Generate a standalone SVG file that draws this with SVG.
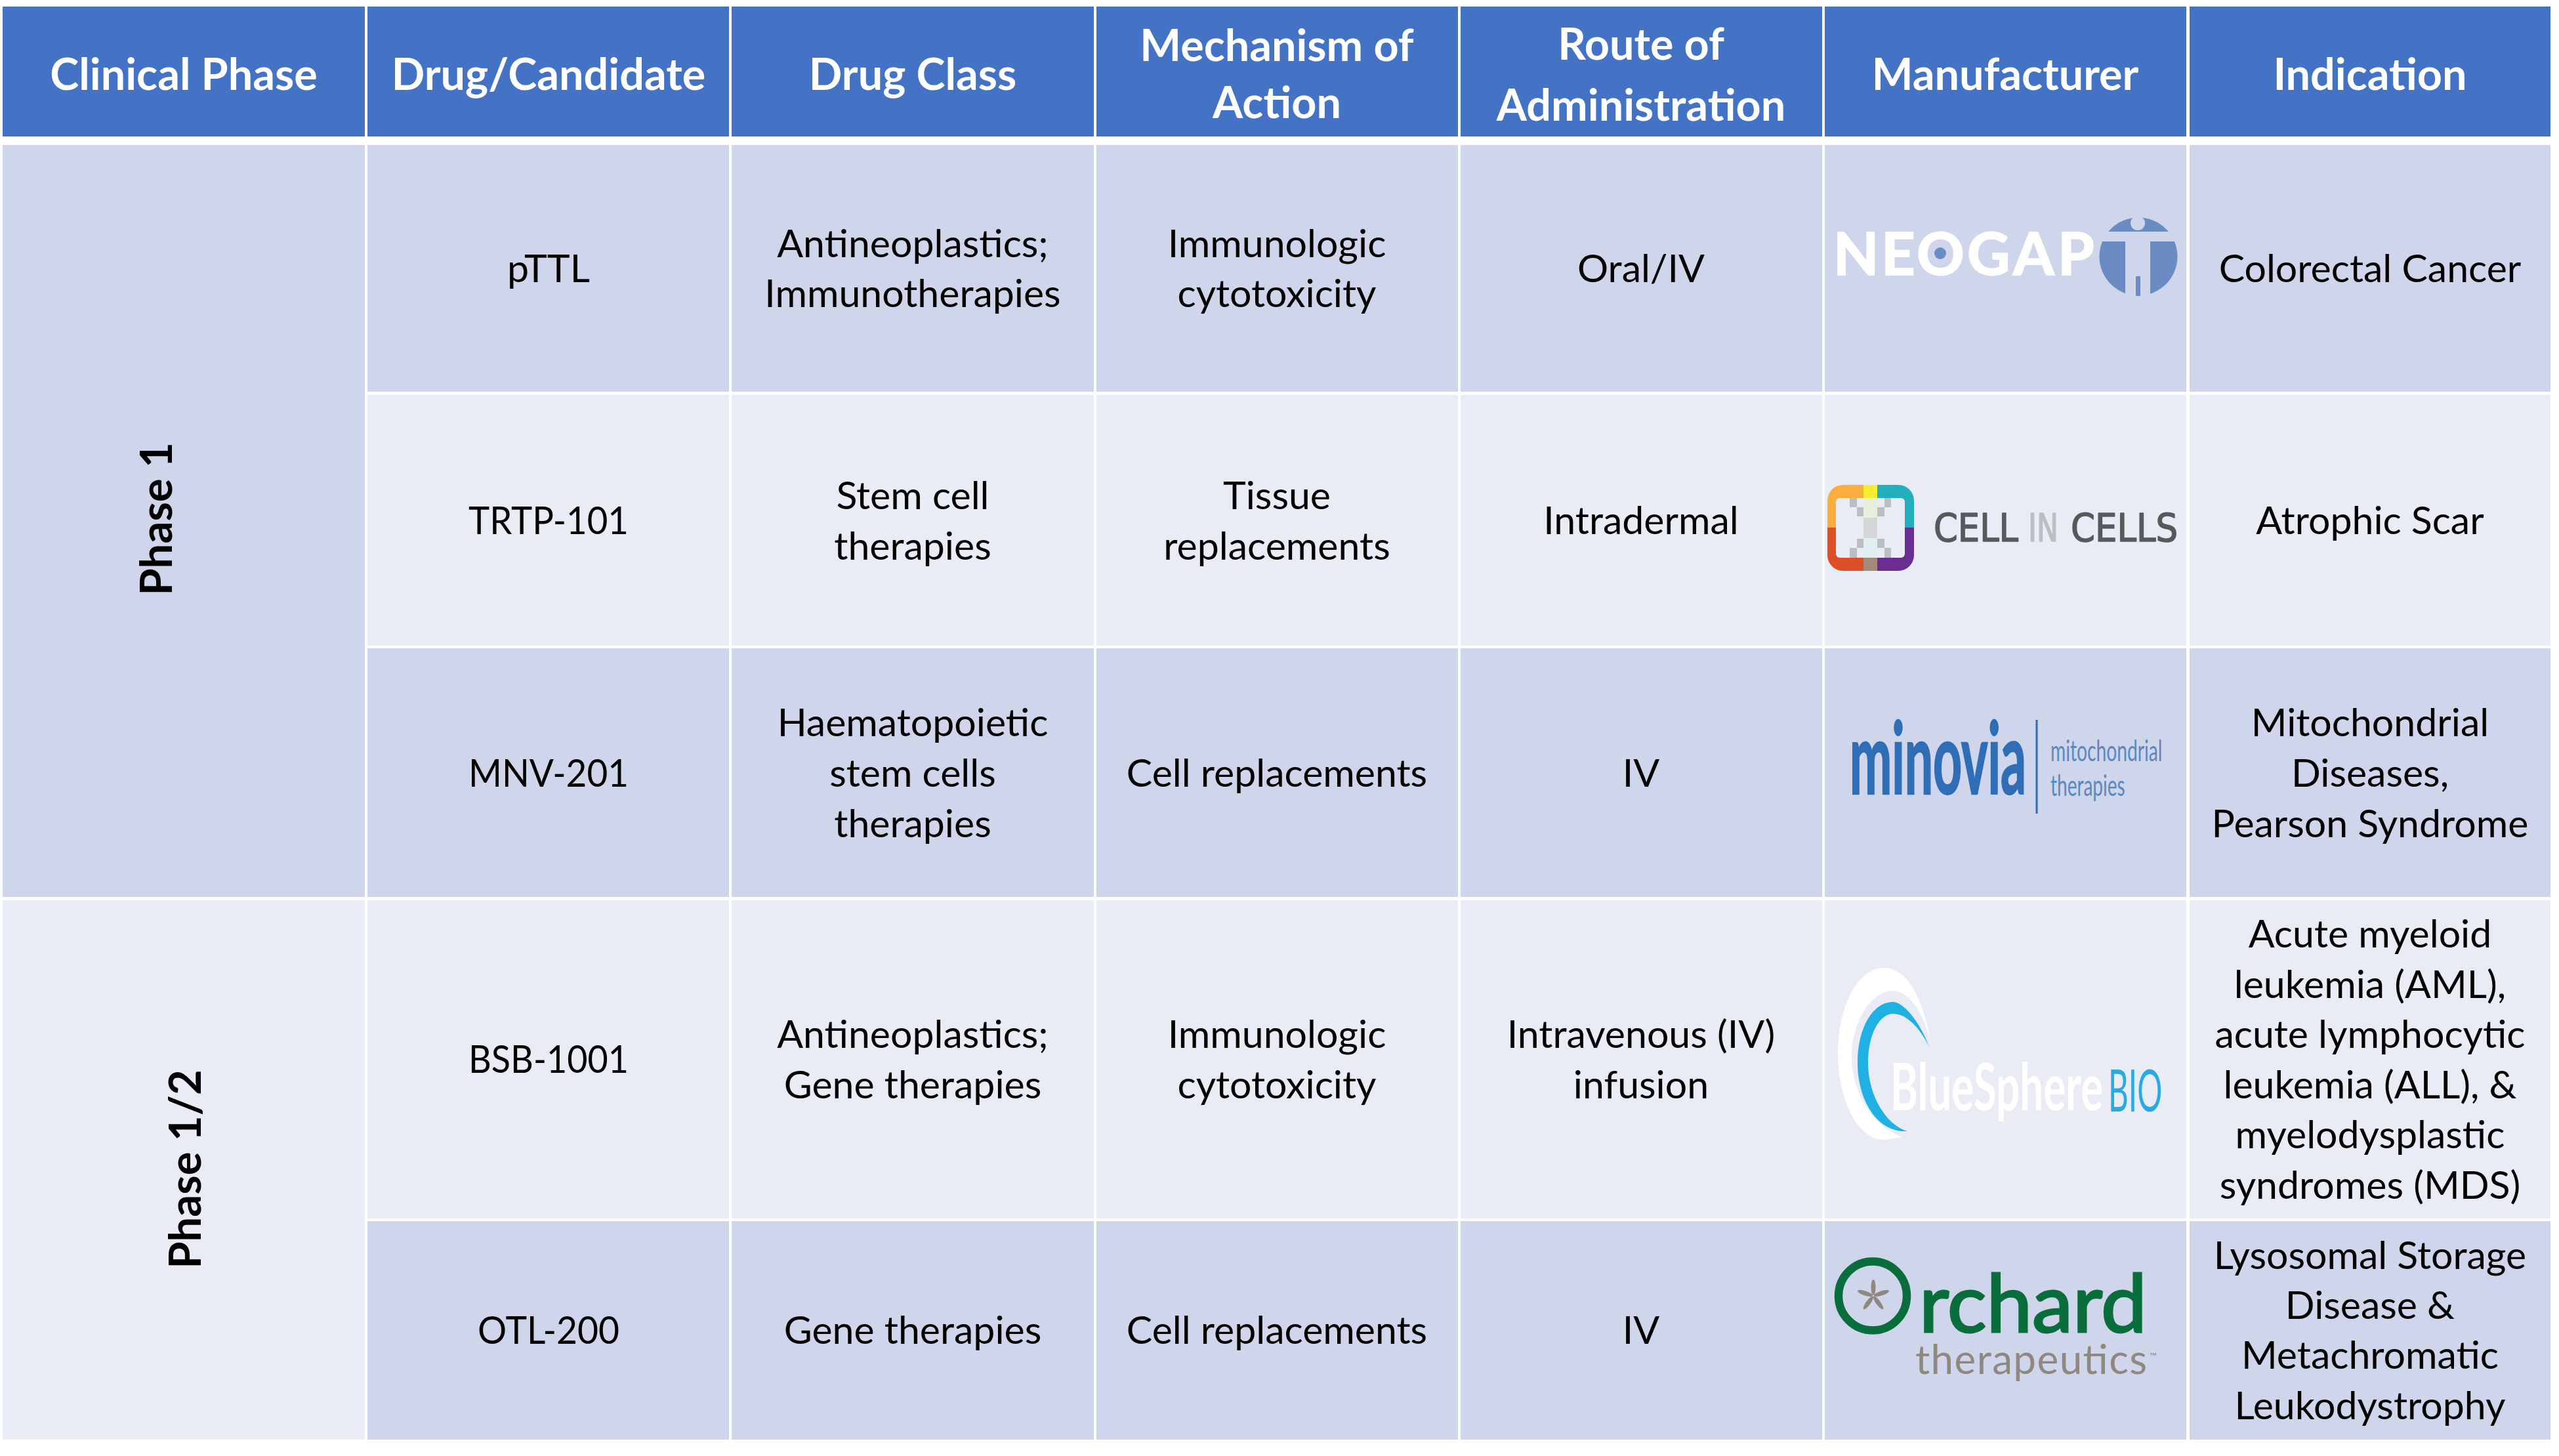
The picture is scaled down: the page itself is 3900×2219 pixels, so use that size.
<svg xmlns="http://www.w3.org/2000/svg" width="3900" height="2219" viewBox="0 0 3900 2219">
<defs>
<style>
.h{fill:#4472c4}.d{fill:#cfd5ea}.l{fill:#e9ebf5}
text{font-family:Lato,"Open Sans",sans-serif}
.ht{font-size:66.5px;font-weight:700;fill:#fff;text-anchor:middle}
.t{font-size:59px;fill:#000;text-anchor:middle}
.p{font-size:67px;font-weight:700;fill:#000;text-anchor:middle}
.cic{font-family:"DejaVu Sans",sans-serif;font-size:58px;stroke-width:1.6px;stroke-linejoin:round}
</style>
<clipPath id="cicRing"><rect x="2785" y="739" width="132" height="131" rx="24"/></clipPath>
</defs>
<rect width="3900" height="2219" fill="#fff"/>
<g id="header">
<g id="h1"><rect class="h" x="4" y="10" width="552" height="198"/><text class="ht" x="280" y="137">Clinical Phase</text></g>
<g id="h2"><rect class="h" x="560" y="10" width="551" height="198"/><text class="ht" x="836" y="137">Drug/Candidate</text></g>
<g id="h3"><rect class="h" x="1115" y="10" width="552" height="198"/><text class="ht" x="1391" y="137">Drug Class</text></g>
<g id="h4"><rect class="h" x="1671" y="10" width="551" height="198"/><text class="ht" x="1946" y="93">Mechanism of</text><text class="ht" x="1946" y="180">Action</text></g>
<g id="h5"><rect class="h" x="2226" y="10" width="551" height="198"/><text class="ht" x="2501" y="91">Route of</text><text class="ht" x="2501" y="184">Administration</text></g>
<g id="h6"><rect class="h" x="2781" y="10" width="551" height="198"/><text class="ht" x="3056" y="137">Manufacturer</text></g>
<g id="h7"><rect class="h" x="3337" y="10" width="550" height="198"/><text class="ht" x="3612" y="137">Indication</text></g>
</g>
<g id="phase1"><rect class="d" x="4" y="221" width="552" height="1146"/><text class="p" transform="translate(262 791) rotate(-90)">Phase 1</text></g>
<g id="phase12"><rect class="l" x="4" y="1372" width="552" height="822"/><text class="p" transform="translate(306 1782) rotate(-90)">Phase 1/2</text></g>
<g id="row1">
<rect class="d" x="560" y="221" width="551" height="376"/><rect class="d" x="1115" y="221" width="552" height="376"/><rect class="d" x="1671" y="221" width="551" height="376"/><rect class="d" x="2226" y="221" width="551" height="376"/><rect class="d" x="2781" y="221" width="551" height="376"/><rect class="d" x="3337" y="221" width="550" height="376"/>
<text class="t" x="836" y="430">pTTL</text>
<text class="t" x="1391" y="392">Antineoplastics;</text><text class="t" x="1391" y="468">Immunotherapies</text>
<text class="t" x="1946" y="392">Immunologic</text><text class="t" x="1946" y="468">cytotoxicity</text>
<text class="t" x="2501" y="430">Oral/IV</text>
<text class="t" x="3612" y="430">Colorectal Cancer</text>
</g>
<g id="row2">
<rect class="l" x="560" y="602" width="551" height="382"/><rect class="l" x="1115" y="602" width="552" height="382"/><rect class="l" x="1671" y="602" width="551" height="382"/><rect class="l" x="2226" y="602" width="551" height="382"/><rect class="l" x="2781" y="602" width="551" height="382"/><rect class="l" x="3337" y="602" width="550" height="382"/>
<text class="t" x="836" y="814" textLength="244" lengthAdjust="spacingAndGlyphs">TRTP-101</text>
<text class="t" x="1391" y="776">Stem cell</text><text class="t" x="1391" y="853">therapies</text>
<text class="t" x="1946" y="776">Tissue</text><text class="t" x="1946" y="853">replacements</text>
<text class="t" x="2501" y="814">Intradermal</text>
<text class="t" x="3612" y="814">Atrophic Scar</text>
</g>
<g id="row3">
<rect class="d" x="560" y="988" width="551" height="379"/><rect class="d" x="1115" y="988" width="552" height="379"/><rect class="d" x="1671" y="988" width="551" height="379"/><rect class="d" x="2226" y="988" width="551" height="379"/><rect class="d" x="2781" y="988" width="551" height="379"/><rect class="d" x="3337" y="988" width="550" height="379"/>
<text class="t" x="836" y="1199" textLength="244" lengthAdjust="spacingAndGlyphs">MNV-201</text>
<text class="t" x="1391" y="1122">Haematopoietic</text><text class="t" x="1391" y="1199">stem cells</text><text class="t" x="1391" y="1276">therapies</text>
<text class="t" x="1946" y="1199">Cell replacements</text>
<text class="t" x="2501" y="1199">IV</text>
<text class="t" x="3612" y="1122">Mitochondrial</text><text class="t" x="3612" y="1199">Diseases,</text><text class="t" x="3612" y="1276">Pearson Syndrome</text>
</g>
<g id="row4">
<rect class="l" x="560" y="1372" width="551" height="485"/><rect class="l" x="1115" y="1372" width="552" height="485"/><rect class="l" x="1671" y="1372" width="551" height="485"/><rect class="l" x="2226" y="1372" width="551" height="485"/><rect class="l" x="2781" y="1372" width="551" height="485"/><rect class="l" x="3337" y="1372" width="550" height="485"/>
<text class="t" x="836" y="1635" textLength="244" lengthAdjust="spacingAndGlyphs">BSB-1001</text>
<text class="t" x="1391" y="1597">Antineoplastics;</text><text class="t" x="1391" y="1674">Gene therapies</text>
<text class="t" x="1946" y="1597">Immunologic</text><text class="t" x="1946" y="1674">cytotoxicity</text>
<text class="t" x="2501" y="1597">Intravenous (IV)</text><text class="t" x="2501" y="1674">infusion</text>
<text class="t" x="3612" y="1444">Acute myeloid</text><text class="t" x="3612" y="1521">leukemia (AML),</text><text class="t" x="3612" y="1597">acute lymphocytic</text><text class="t" x="3612" y="1674">leukemia (ALL), &amp;</text><text class="t" x="3612" y="1750">myelodysplastic</text><text class="t" x="3612" y="1827">syndromes (MDS)</text>
</g>
<g id="row5">
<rect class="d" x="560" y="1861" width="551" height="333"/><rect class="d" x="1115" y="1861" width="552" height="333"/><rect class="d" x="1671" y="1861" width="551" height="333"/><rect class="d" x="2226" y="1861" width="551" height="333"/><rect class="d" x="2781" y="1861" width="551" height="333"/><rect class="d" x="3337" y="1861" width="550" height="333"/>
<text class="t" x="836" y="2048" textLength="216" lengthAdjust="spacingAndGlyphs">OTL-200</text>
<text class="t" x="1391" y="2048">Gene therapies</text>
<text class="t" x="1946" y="2048">Cell replacements</text>
<text class="t" x="2501" y="2048">IV</text>
<text class="t" x="3612" y="1934">Lysosomal Storage</text><text class="t" x="3612" y="2010">Disease &amp;</text><text class="t" x="3612" y="2086">Metachromatic</text><text class="t" x="3612" y="2163">Leukodystrophy</text>
</g>
<g id="logo-neogap">
<text x="2794 2867 2921 2998 3068 3136" y="419" font-size="90" font-weight="700" fill="#fff" stroke="#fff" stroke-width="2">NEOGAP</text>
<circle cx="2957" cy="386" r="9" fill="#6a8cc3"/>
<circle cx="3259" cy="391" r="59.5" fill="#6a8cc3"/>
<rect x="3195" y="353" width="128" height="15" fill="#cfd5ea"/>
<rect x="3239" y="353" width="38" height="100" fill="#cfd5ea"/>
<rect x="3255" y="421" width="7" height="30" fill="#6a8cc3"/>
<circle cx="3258" cy="340" r="11" fill="#cfd5ea"/>
</g>
<g id="logo-cellincells">
<g clip-path="url(#cicRing)">
<rect x="2785" y="739" width="55" height="65" fill="#fbae3f"/><rect x="2840" y="739" width="21" height="65" fill="#f7ec2e"/><rect x="2861" y="739" width="56" height="65" fill="#22aebd"/>
<rect x="2785" y="804" width="55" height="66" fill="#dd4f26"/><rect x="2840" y="804" width="21" height="66" fill="#a38a7b"/><rect x="2861" y="804" width="56" height="66" fill="#6a2d91"/>
</g>
<rect x="2798" y="759" width="105" height="91" rx="6" fill="#e9ebf5"/>
<rect x="2840" y="759" width="21" height="91" fill="#d4d6d8"/>
<rect x="2840" y="759" width="21" height="30" fill="#e6efdc"/><rect x="2840" y="820" width="21" height="30" fill="#e0edf1"/>
<g fill="#bdbec0"><rect x="2819" y="759" width="11" height="14"/><rect x="2830" y="773" width="10" height="14"/><rect x="2872" y="759" width="10" height="14"/><rect x="2861" y="773" width="11" height="14"/><rect x="2830" y="821" width="10" height="14"/><rect x="2819" y="835" width="11" height="15"/><rect x="2861" y="821" width="11" height="14"/><rect x="2872" y="835" width="10" height="15"/></g>
<text class="cic" x="2947" y="825" textLength="129" lengthAdjust="spacingAndGlyphs" fill="#58595b" stroke="#58595b">CELL</text>
<text class="cic" x="3091" y="825" textLength="46" lengthAdjust="spacingAndGlyphs" fill="#bcbec0" stroke="#bcbec0">IN</text>
<text class="cic" x="3156" y="825" textLength="163" lengthAdjust="spacingAndGlyphs" fill="#58595b" stroke="#58595b">CELLS</text>
</g>
<g id="logo-minovia">
<text transform="translate(2819 1210) scale(.505 1)" font-size="152" font-weight="700" fill="#2f6db5" stroke="#2f6db5" stroke-width="2.500">minovia</text>
<rect x="3102.500" y="1097" width="3" height="143" fill="#2f6db5"/>
<text transform="translate(3125 1160) scale(.564 .9)" font-size="50" fill="#5b88bf">mitochondrial</text>
<text transform="translate(3125 1213) scale(.56 .9)" font-size="50" fill="#5b88bf">therapies</text>
</g>
<g id="logo-bluesphere">
<path fill="#fff" d="M2946 1610C2935 1530 2910 1475 2872 1475C2830 1475 2801 1535 2801 1605C2801 1675 2830 1737 2872 1737L2900 1733C2860 1720 2822 1670 2822 1610C2822 1560 2850 1510 2885 1510C2915 1510 2940 1560 2946 1610Z"/>
<path fill="#1fb0e4" d="M2940 1595C2925 1555 2900 1527 2885 1527C2855 1527 2831 1565 2831 1620C2831 1675 2860 1727 2907 1724C2875 1715 2847 1670 2847 1620C2847 1575 2865 1545 2885 1545C2905 1545 2925 1565 2940 1595Z"/>
<text transform="translate(2881 1692) scale(.638 1)" font-size="100" font-weight="700" fill="#fff">BlueSphere</text>
<text transform="translate(3213 1694) scale(.53 1)" font-size="90" fill="#29abe2">BIO</text>
</g>
<g id="logo-orchard">
<ellipse cx="2854" cy="1975" rx="52" ry="52.500" fill="none" stroke="#0a6e3c" stroke-width="12.500"/>
<g fill="#8f8780"><ellipse cx="2855" cy="1962" rx="3.500" ry="12"/><ellipse cx="2855" cy="1962" rx="3.500" ry="12" transform="rotate(72 2855 1975)"/><ellipse cx="2855" cy="1962" rx="3.500" ry="12" transform="rotate(144 2855 1975)"/><ellipse cx="2855" cy="1962" rx="3.500" ry="12" transform="rotate(216 2855 1975)"/><ellipse cx="2855" cy="1962" rx="3.500" ry="12" transform="rotate(288 2855 1975)"/></g>
<text x="2925" y="2030" font-size="122" textLength="347" lengthAdjust="spacingAndGlyphs" fill="#0a6e3c" stroke="#0a6e3c" stroke-width="3">rchard</text>
<text x="2919" y="2094" font-size="62" textLength="353" lengthAdjust="spacing" fill="#8f8780">therapeutics</text>
<text x="3276" y="2072" font-size="14" fill="#8f8780">™</text>
</g>
</svg>
